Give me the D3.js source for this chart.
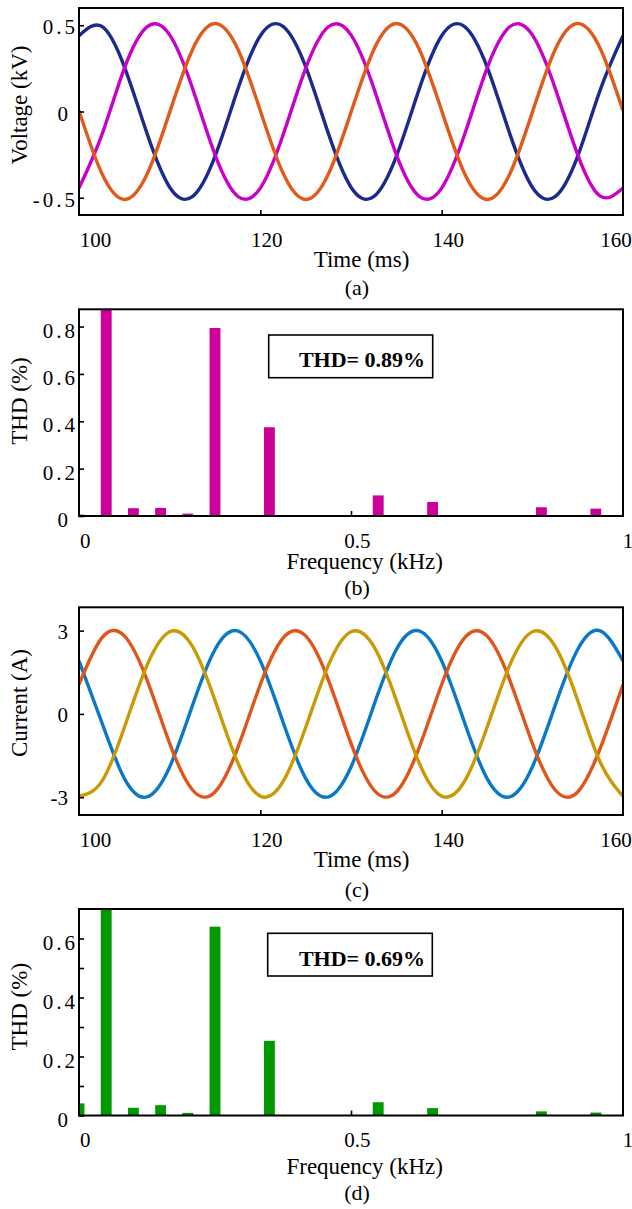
<!DOCTYPE html>
<html>
<head>
<meta charset="utf-8">
<script src="https://cdn.jsdelivr.net/npm/d3@7"></script>
<style>
body { margin: 0; background: #fff; }
svg { display: block; font-family: "Liberation Serif", "Times New Roman", serif; }
svg text { font-family: "Liberation Serif", "Times New Roman", serif; }
</style>
</head>
<body>
<div id="graphic"></div>
<script>
// sample instants (ms)
var timeSamples = [100, 102.5, 105, 107.5, 110, 112.5, 115, 117.5, 120, 122.5, 125, 127.5,
    130, 132.5, 135, 137.5, 140, 142.5, 145, 147.5, 150, 152.5, 155, 157.5, 160];
var timeTicks = [100, 120, 140, 160];

// (a) phase voltages, kV
var voltA = [0.439, 0.494, 0.260, -0.127, -0.439, -0.494, -0.260, 0.127,
    0.439, 0.494, 0.260, -0.127, -0.439, -0.494, -0.260, 0.127,
    0.439, 0.494, 0.260, -0.127, -0.439, -0.494, -0.260, 0.127, 0.439];
var voltB = [-0.444, -0.138, 0.250, 0.491, 0.444, 0.138, -0.250, -0.491,
    -0.444, -0.138, 0.250, 0.491, 0.444, 0.138, -0.250, -0.491,
    -0.444, -0.138, 0.250, 0.491, 0.444, 0.138, -0.250, -0.491, -0.444];
var voltC = [0.005, -0.357, -0.510, -0.364, -0.005, 0.357, 0.510, 0.364,
    0.005, -0.357, -0.510, -0.364, -0.005, 0.357, 0.510, 0.364,
    0.005, -0.357, -0.510, -0.364, -0.005, 0.357, 0.510, 0.364, 0.005];
var voltTicks = [-0.5, 0, 0.5];

// (c) phase currents, A
var currA = [1.91, -0.29, -2.32, -2.99, -1.91, 0.29, 2.32, 2.99,
    1.91, -0.29, -2.32, -2.99, -1.91, 0.29, 2.32, 2.99,
    1.91, -0.29, -2.32, -2.99, -1.91, 0.29, 2.32, 2.99, 1.91];
var currB = [1.06, 2.73, 2.81, 1.23, -1.06, -2.73, -2.81, -1.23,
    1.06, 2.73, 2.81, 1.23, -1.06, -2.73, -2.81, -1.23,
    1.06, 2.73, 2.81, 1.23, -1.06, -2.73, -2.81, -1.23, 1.06];
var currC = [-2.96, -2.44, -0.49, 1.75, 2.96, 2.44, 0.49, -1.75,
    -2.96, -2.44, -0.49, 1.75, 2.96, 2.44, 0.49, -1.75,
    -2.96, -2.44, -0.49, 1.75, 2.96, 2.44, 0.49, -1.75, -2.96];
var currTicks = [-3, 0, 3];

// (b),(d) harmonic spectra, frequency in kHz, THD in %
var harmFreq = [0, 0.05, 0.1, 0.15, 0.2, 0.25, 0.35, 0.55, 0.65, 0.85, 0.95];
var thdVolt = [0.006, 100, 0.033, 0.034, 0.010, 0.794, 0.375, 0.087, 0.059, 0.037, 0.031];
var thdCurr = [0.041, 100, 0.026, 0.035, 0.009, 0.640, 0.253, 0.045, 0.025, 0.014, 0.010];
var freqTicks = [0, 0.5, 1];
var thdVoltTicks = [0, 0.2, 0.4, 0.6, 0.8];
var thdCurrTicks = [0, 0.1, 0.2, 0.3, 0.4, 0.5, 0.6];
var thdCurrLabels = [0, 0.2, 0.4, 0.6];

var W = 632, H = 1209, L = 79, R = 623;
var SERIF = '"Liberation Serif", "Times New Roman", serif';

var svg = d3.select("#graphic").append("svg")
    .attr("width", W)
    .attr("height", H);

var defs = svg.append("defs");

function panel(id, top, bottom) {
    defs.append("clipPath").attr("id", "clip-" + id)
        .append("rect")
        .attr("x", L).attr("y", top)
        .attr("width", R - L).attr("height", bottom - top);
    return svg.append("g").attr("class", "panel-" + id);
}

function frame(g, top, bottom) {
    g.append("rect")
        .attr("x", L).attr("y", top)
        .attr("width", R - L).attr("height", bottom - top)
        .attr("fill", "none")
        .attr("stroke", "#000")
        .attr("stroke-width", 2);
}

// y axis with inward ticks, labels placed like the figure
function yAxis(g, y, ticks, fmt, dyLabel) {
    var ax = g.append("g")
        .attr("transform", "translate(" + L + ",0)")
        .call(d3.axisLeft(y).tickValues(ticks).tickFormat(fmt).tickSizeInner(-5).tickSizeOuter(0));
    ax.attr("font-family", SERIF).attr("font-size", 21);
    ax.select(".domain").remove();
    ax.selectAll("line").attr("stroke", "#000").attr("stroke-width", 1.6);
    ax.selectAll("text")
        .attr("fill", "#000")
        .attr("font-family", SERIF)
        .attr("font-size", 21)
        .attr("dy", null)
        .attr("y", dyLabel)
        .attr("text-anchor", "end")
        .each(function(d) {
            var t = d3.select(this), s = t.text();
            if (s.indexOf(".") >= 0) {
                t.style("letter-spacing", "3px").attr("x", -1);
            } else {
                t.attr("x", -11);
            }
        });
    return ax;
}

function xAxis(g, x, bottom, ticks, fmt, shift) {
    var ax = g.append("g")
        .attr("transform", "translate(0," + bottom + ")")
        .call(d3.axisBottom(x).tickValues(ticks).tickFormat(fmt).tickSizeInner(-5).tickSizeOuter(0));
    ax.attr("font-family", SERIF).attr("font-size", 21);
    ax.select(".domain").remove();
    ax.selectAll("line").attr("stroke", "#000").attr("stroke-width", 1.6);
    ax.selectAll("text")
        .attr("fill", "#000")
        .attr("font-family", SERIF)
        .attr("font-size", 21)
        .attr("dy", null)
        .attr("y", 31.5)
        .attr("x", function(d, i) { return shift(d, i); });
    return ax;
}

function yTitle(text, cy) {
    svg.append("text")
        .attr("transform", "translate(27," + cy + ") rotate(-90)")
        .attr("text-anchor", "middle")
        .attr("font-size", 23)
        .text(text);
}

function xTitle(text, cx, baseline) {
    svg.append("text")
        .attr("x", cx).attr("y", baseline)
        .attr("text-anchor", "middle")
        .attr("font-size", 23)
        .text(text);
}

function caption(text, baseline) {
    svg.append("text")
        .attr("x", 357).attr("y", baseline)
        .attr("text-anchor", "middle")
        .attr("font-size", 22)
        .text(text);
}

function thdBox(text, x0, y0, x1, y1, baseline) {
    svg.append("rect")
        .attr("x", x0).attr("y", y0)
        .attr("width", x1 - x0).attr("height", y1 - y0)
        .attr("fill", "#fff")
        .attr("stroke", "#000")
        .attr("stroke-width", 1.6);
    svg.append("text")
        .attr("x", 362).attr("y", baseline)
        .attr("text-anchor", "middle")
        .attr("font-size", 22)
        .attr("font-weight", "bold")
        .text(text);
}

var strFmt = function(d) { return String(d); };
var timeShift = function(d, i) { return i === 0 ? 16 : (i === timeTicks.length - 1 ? -7.5 : 6); };
var freqShift = function(d) { return d === 1 ? 4.5 : 5.8; };

// waveform panel
function wavePanel(id, top, bottom, domain, series, colors, ticks, dyLabel) {
    var g = panel(id, top, bottom);
    var x = d3.scaleLinear().domain([100, 160]).range([L, R]);
    var y = d3.scaleLinear().domain(domain).range([bottom, top]);
    var line = d3.line()
        .x(function(d, i) { return x(timeSamples[i]); })
        .y(function(d) { return y(d); })
        .curve(d3.curveNatural);
    var lines = g.append("g").attr("clip-path", "url(#clip-" + id + ")");
    series.forEach(function(s, k) {
        lines.append("path")
            .datum(s)
            .attr("d", line)
            .attr("fill", "none")
            .attr("stroke", colors[k])
            .attr("stroke-width", 3.4);
    });
    frame(g, top, bottom);
    yAxis(g, y, ticks, strFmt, dyLabel);
    var ax = xAxis(g, x, bottom, timeTicks, d3.format("d"), timeShift);
    ax.selectAll(".tick").filter(function(d) { return d === 100 || d === 160; }).select("line").remove();
}

// spectrum panel
function barPanel(id, top, bottom, ymax, values, color, ticks, labels, dyLabel) {
    var g = panel(id, top, bottom);
    var x = d3.scaleLinear().domain([0, 1]).range([L, R]);
    var y = d3.scaleLinear().domain([0, ymax]).range([bottom, top]);
    var bw = x(0.02) - x(0);
    g.append("g").attr("clip-path", "url(#clip-" + id + ")")
        .selectAll("rect")
        .data(values)
        .enter()
        .append("rect")
        .attr("x", function(d, i) { return x(harmFreq[i]) - bw / 2; })
        .attr("y", function(d) { return y(d); })
        .attr("width", bw)
        .attr("height", function(d) { return y(0) - y(d); })
        .attr("fill", color);
    frame(g, top, bottom);
    yAxis(g, y, ticks, function(d) { return labels.indexOf(d) >= 0 ? String(d) : ""; }, dyLabel);
    var ax = xAxis(g, x, bottom, freqTicks, strFmt, freqShift);
    ax.selectAll(".tick").filter(function(d) { return d === 0 || d === 1; }).select("line").remove();
}

// (a)
wavePanel("a", 8, 215, [-0.6, 0.6], [voltA, voltB, voltC], ["#1b2a8c", "#c800c8", "#e05a1c"], voltTicks, 8.5);
yTitle("Voltage (kV)", 105);
xTitle("Time (ms)", 361.5, 267);
caption("(a)", 294.5);

// (b)
barPanel("b", 309.3, 516, 0.873, thdVolt, "#cc0099", thdVoltTicks, thdVoltTicks, 10.5);
thdBox("THD= 0.89%", 268.7, 335, 432.7, 377.7, 366.7);
yTitle("THD (%)", 401);
xTitle("Frequency (kHz)", 364.7, 569);
caption("(b)", 594.5);

// (c)
wavePanel("c", 607.3, 815, [-3.64, 3.84], [currA, currB, currC], ["#0a78c6", "#e0561a", "#c99a06"], currTicks, 7.7);
yTitle("Current (A)", 703);
xTitle("Time (ms)", 361.5, 867);
caption("(c)", 897);

// (d)
barPanel("d", 909, 1115.5, 0.70, thdCurr, "#009900", thdCurrTicks, thdCurrLabels, 11);
thdBox("THD= 0.69%", 267.7, 933.3, 432.3, 976, 966);
yTitle("THD (%)", 1006.7);
xTitle("Frequency (kHz)", 364.7, 1174);
caption("(d)", 1199.5);
</script>
</body>
</html>
